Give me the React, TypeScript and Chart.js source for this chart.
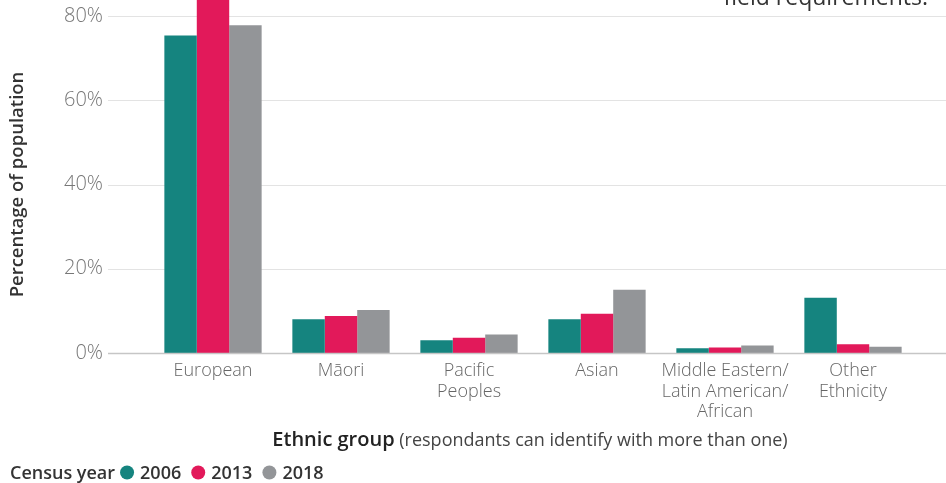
import React, { useEffect, useRef } from "react";
import { Chart, registerables } from "chart.js";

Chart.register(...registerables);

// Ethnic group categories (multi-line tick labels)
const categories: string[][] = [
  ["European"],
  ["Māori"],
  ["Pacific", "Peoples"],
  ["Asian"],
  ["Middle Eastern/", "Latin American/", "African"],
  ["Other", "Ethnicity"],
];

const censusYears = ["2006", "2013", "2018"];

// Share of population (%) by census year
const share2006 = [75.4, 8.0, 3.0, 8.0, 1.1, 13.1];
const share2013 = [86.0, 8.8, 3.6, 9.3, 1.3, 2.1];
const share2018 = [77.8, 10.2, 4.4, 15.0, 1.8, 1.5];

const yTickValues = [0, 20, 40, 60, 80];

const seriesColors = ["#15847f", "#e2195a", "#939598"];

const FONT = "'Open Sans', Lato, sans-serif";

export default function App() {
  const canvasRef = useRef<HTMLCanvasElement>(null);

  useEffect(() => {
    const canvas = canvasRef.current;
    if (!canvas) return;

    const series = [share2006, share2013, share2018];

    const decorations = {
      id: "decorations",
      beforeDatasetsDraw(chart: any) {
        const { ctx } = chart;
        const y = chart.scales.y;
        ctx.save();
        ctx.strokeStyle = "#e3e3e3";
        ctx.lineWidth = 1;
        for (const v of yTickValues) {
          if (v === 0) continue;
          const py = Math.round(y.getPixelForValue(v)) + 0.5;
          ctx.beginPath();
          ctx.moveTo(108, py);
          ctx.lineTo(chart.width, py);
          ctx.stroke();
        }
        ctx.restore();
      },
      afterDatasetsDraw(chart: any) {
        const { ctx, chartArea } = chart;
        const y = chart.scales.y;
        ctx.save();

        // zero line
        const p0 = Math.round(y.getPixelForValue(0)) + 0.5;
        ctx.strokeStyle = "#c6c6c6";
        ctx.lineWidth = 1.5;
        ctx.beginPath();
        ctx.moveTo(108, p0);
        ctx.lineTo(chart.width, p0);
        ctx.stroke();

        // note at the top right
        ctx.fillStyle = "#333";
        ctx.font = `400 23px ${FONT}`;
        ctx.textAlign = "right";
        ctx.textBaseline = "alphabetic";
        ctx.fillText("field requirements.", 928, 5);

        // y axis title
        ctx.save();
        ctx.translate(18, (chartArea.top + chartArea.bottom) / 2);
        ctx.rotate(-Math.PI / 2);
        ctx.textAlign = "center";
        ctx.textBaseline = "middle";
        ctx.font = `600 18.5px ${FONT}`;
        ctx.fillStyle = "#333";
        ctx.fillText("Percentage of population", 0, 0);
        ctx.restore();

        // x axis title (bold lead + regular note)
        const boldPart = "Ethnic group";
        const lightPart = " (respondants can identify with more than one)";
        ctx.textAlign = "left";
        ctx.textBaseline = "alphabetic";
        ctx.font = `600 20px ${FONT}`;
        const wBold = ctx.measureText(boldPart).width;
        ctx.font = `400 18px ${FONT}`;
        const wLight = ctx.measureText(lightPart).width;
        const cx = (chartArea.left + chartArea.right) / 2 - 3;
        const x0 = cx - (wBold + wLight) / 2;
        ctx.font = `600 20px ${FONT}`;
        ctx.fillStyle = "#222";
        ctx.fillText(boldPart, x0, 446);
        ctx.font = `400 18px ${FONT}`;
        ctx.fillStyle = "#444";
        ctx.fillText(lightPart, x0 + wBold, 446);

        // legend
        let lx = 10;
        const ly = 479;
        ctx.font = `600 18px ${FONT}`;
        ctx.fillStyle = "#333";
        ctx.fillText("Census year", lx, ly);
        lx += ctx.measureText("Census year").width + 5;
        censusYears.forEach((yr, i) => {
          ctx.fillStyle = seriesColors[i];
          ctx.beginPath();
          ctx.arc(lx + 7, ly - 6.5, 7, 0, Math.PI * 2);
          ctx.fill();
          lx += 20;
          ctx.fillStyle = "#333";
          ctx.font = `600 18px ${FONT}`;
          ctx.fillText(yr, lx, ly);
          lx += ctx.measureText(yr).width + 10;
        });

        ctx.restore();
      },
    };

    const chart = new Chart(canvas, {
      type: "bar",
      data: {
        labels: categories,
        datasets: censusYears.map((yr, i) => ({
          label: yr,
          data: series[i],
          backgroundColor: seriesColors[i],
          borderWidth: 0,
          barPercentage: 1,
          categoryPercentage: 0.76,
          clip: false as any,
        })),
      },
      options: {
        animation: false,
        responsive: false,
        maintainAspectRatio: false,
        devicePixelRatio: 1,
        layout: { padding: { top: 16, right: 29, left: 0, bottom: 0 } },
        plugins: {
          legend: { display: false },
          tooltip: { enabled: false },
        },
        scales: {
          x: {
            grid: { display: false, drawTicks: false },
            border: { display: false },
            ticks: {
              color: "#666",
              font: { family: FONT, size: 18, weight: "300", lineHeight: 1.14 },
              padding: 8,
              maxRotation: 0,
              autoSkip: false,
            },
            afterFit(scale: any) {
              scale.height = 130;
            },
          },
          y: {
            min: 0,
            max: 80,
            grid: { display: false, drawTicks: true, tickLength: 41 },
            border: { display: false },
            ticks: {
              stepSize: 20,
              color: "#777",
              font: { family: FONT, size: 20, weight: "300", lineHeight: 1 },
              padding: 5,
              callback: (v: any) => `${v}%`,
            },
            afterFit(scale: any) {
              scale.width = 149;
            },
          },
        },
      },
      plugins: [decorations],
    });

    return () => chart.destroy();
  }, []);

  return (
    <div style={{ position: "fixed", left: 0, top: 0, width: 946, height: 483, background: "#fff" }}>
      <canvas ref={canvasRef} width={946} height={483} style={{ display: "block" }} />
    </div>
  );
}
